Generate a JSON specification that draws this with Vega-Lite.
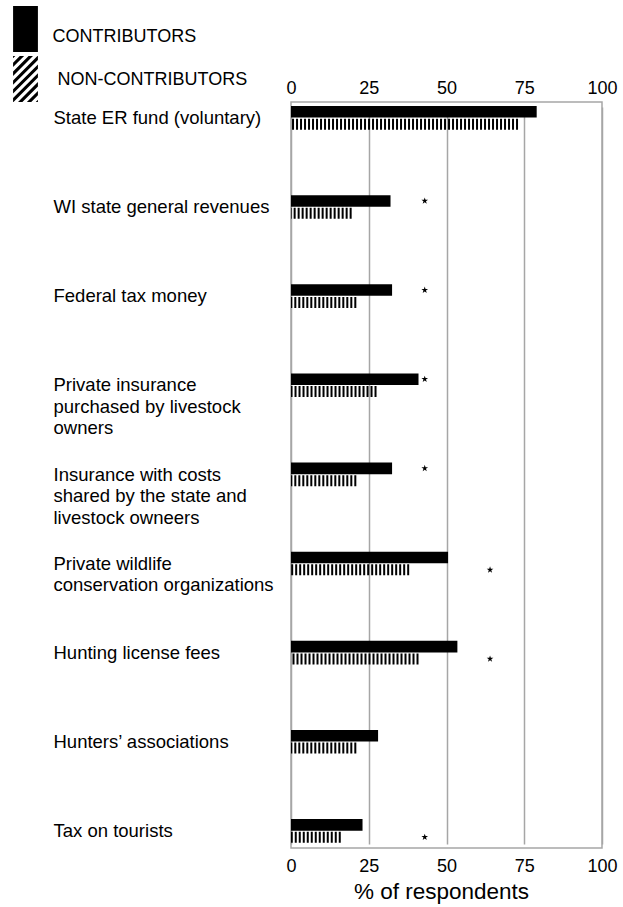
{
  "$schema": "https://vega.github.io/schema/vega-lite/v6.json",
  "width": 311,
  "height": 746,
  "autosize": "none",
  "padding": {"left": 291, "top": 102, "right": 21, "bottom": 59},
  "background": "white",
  "config": {"font": "Liberation Sans", "view": {"stroke": "#a6a6a6", "strokeWidth": 1.5}},
  "datasets": {
    "bars": [
      {"category": "State ER fund (voluntary)", "group": "CONTRIBUTORS", "value": 79},
      {"category": "State ER fund (voluntary)", "group": "NON-CONTRIBUTORS", "value": 73},
      {"category": "WI state general revenues", "group": "CONTRIBUTORS", "value": 32},
      {"category": "WI state general revenues", "group": "NON-CONTRIBUTORS", "value": 19.5},
      {"category": "Federal tax money", "group": "CONTRIBUTORS", "value": 32.5},
      {"category": "Federal tax money", "group": "NON-CONTRIBUTORS", "value": 21},
      {"category": "Private insurance|purchased by livestock|owners", "group": "CONTRIBUTORS", "value": 41},
      {"category": "Private insurance|purchased by livestock|owners", "group": "NON-CONTRIBUTORS", "value": 27.5},
      {"category": "Insurance with costs|shared by the state and|livestock owneers", "group": "CONTRIBUTORS", "value": 32.5},
      {"category": "Insurance with costs|shared by the state and|livestock owneers", "group": "NON-CONTRIBUTORS", "value": 21},
      {"category": "Private wildlife|conservation organizations", "group": "CONTRIBUTORS", "value": 50.5},
      {"category": "Private wildlife|conservation organizations", "group": "NON-CONTRIBUTORS", "value": 38},
      {"category": "Hunting license fees", "group": "CONTRIBUTORS", "value": 53.5},
      {"category": "Hunting license fees", "group": "NON-CONTRIBUTORS", "value": 41},
      {"category": "Hunters’ associations", "group": "CONTRIBUTORS", "value": 28},
      {"category": "Hunters’ associations", "group": "NON-CONTRIBUTORS", "value": 21},
      {"category": "Tax on tourists", "group": "CONTRIBUTORS", "value": 23},
      {"category": "Tax on tourists", "group": "NON-CONTRIBUTORS", "value": 16}
    ],
    "signif": [
      {"category": "WI state general revenues", "group": "CONTRIBUTORS", "value": 43},
      {"category": "Federal tax money", "group": "CONTRIBUTORS", "value": 43},
      {"category": "Private insurance|purchased by livestock|owners", "group": "CONTRIBUTORS", "value": 43},
      {"category": "Insurance with costs|shared by the state and|livestock owneers", "group": "CONTRIBUTORS", "value": 43},
      {"category": "Private wildlife|conservation organizations", "group": "NON-CONTRIBUTORS", "value": 64},
      {"category": "Hunting license fees", "group": "NON-CONTRIBUTORS", "value": 64},
      {"category": "Tax on tourists", "group": "NON-CONTRIBUTORS", "value": 43}
    ]
  },
  "resolve": {"axis": {"x": "independent"}},
  "layer": [
    {
      "data": {"name": "bars"},
      "transform": [{"filter": "datum.group === 'CONTRIBUTORS'"}],
      "mark": {"type": "bar"},
      "encoding": {
        "y": {
          "field": "category", "type": "nominal",
          "scale": {
            "type": "band",
            "domain": ["State ER fund (voluntary)", "WI state general revenues", "Federal tax money", "Private insurance|purchased by livestock|owners", "Insurance with costs|shared by the state and|livestock owneers", "Private wildlife|conservation organizations", "Hunting license fees", "Hunters’ associations", "Tax on tourists"],
            "range": [4, 741], "paddingInner": 0.731, "paddingOuter": 0
          },
          "axis": {
            "title": null, "domain": false, "ticks": false, "grid": false,
            "labelAlign": "left", "labelPadding": 238, "labelLimit": 300,
            "labelFontSize": 18.5, "labelColor": "#000", "labelLineHeight": 21.5,
            "labelOverlap": false,
            "labelExpr": "split(datum.label, '|')"
          }
        },
        "yOffset": {"field": "group", "type": "nominal", "scale": {"domain": ["CONTRIBUTORS", "NON-CONTRIBUTORS"], "paddingInner": 0.06}},
        "x": {
          "field": "value", "type": "quantitative",
          "scale": {"domain": [0, 100], "nice": false},
          "axis": {
            "orient": "bottom", "values": [0, 25, 50, 75, 100], "grid": true,
            "gridColor": "#a6a6a6", "gridWidth": 1.5, "domain": false, "ticks": false,
            "labelFontSize": 18, "labelColor": "#000", "labelPadding": 9, "labelFlush": false,
            "title": "% of respondents", "titleFontSize": 22.5, "titleFontWeight": "normal",
            "titleColor": "#000", "titlePadding": 5, "titleX": 150
          }
        },
        "color": {
          "field": "group", "type": "nominal",
          "scale": {"domain": ["CONTRIBUTORS", "NON-CONTRIBUTORS"], "range": ["#000000", "#000000"]},
          "legend": {
            "orient": "none", "direction": "vertical", "legendX": -288.5, "legendY": -96,
            "title": null, "symbolSize": 2116, "symbolStrokeWidth": 0,
            "labelFontSize": 18, "labelColor": "#000", "labelOffset": 4, "rowPadding": 4,
            "padding": 0, "labelLimit": 300,
            "encode": {
              "symbols": {"update": {"shape": {"signal": "datum.value === 'CONTRIBUTORS' ? 'M-0.54,-1H0.54V1H-0.54Z' : 'M-0.54,-1L-0.445,-1L-0.54,-0.905Z M-0.54,-0.71L-0.25,-1L-0.06,-1L-0.54,-0.52Z M-0.54,-0.325L0.135,-1L0.325,-1L-0.54,-0.135Z M-0.54,0.06L0.52,-1L0.54,-1L0.54,-0.83L-0.54,0.25Z M-0.54,0.445L0.54,-0.635L0.54,-0.445L-0.54,0.635Z M-0.54,0.83L0.54,-0.25L0.54,-0.06L-0.52,1L-0.54,1Z M-0.325,1L0.54,0.135L0.54,0.325L-0.135,1Z M0.06,1L0.54,0.52L0.54,0.71L0.25,1Z M0.445,1L0.54,0.905L0.54,1Z'"}}},
              "labels": {"update": {"dy": {"signal": "datum.value === 'CONTRIBUTORS' ? 8 : 1"}, "dx": {"signal": "datum.value === 'CONTRIBUTORS' ? 0 : 5"}}}
            }
          }
        }
      }
    },
    {
      "data": {"name": "bars"},
      "transform": [{"filter": "datum.group === 'NON-CONTRIBUTORS'"}],
      "mark": {"type": "rule", "strokeWidth": 11, "strokeDash": [2, 2], "color": "#000", "strokeCap": "butt"},
      "encoding": {
        "y": {"field": "category", "type": "nominal"},
        "yOffset": {"field": "group", "type": "nominal"},
        "x": {
          "field": "value", "type": "quantitative",
          "axis": {
            "orient": "top", "values": [0, 25, 50, 75, 100], "grid": false, "domain": false, "ticks": false,
            "labelFontSize": 18, "labelColor": "#000", "labelPadding": 5, "labelFlush": false, "title": null
          }
        },
        "x2": {"datum": 0}
      }
    },
    {
      "data": {"name": "signif"},
      "mark": {"type": "point", "shape": "M0,-1L0.223,-0.307L0.951,-0.309L0.361,0.117L0.588,0.809L0,0.38L-0.588,0.809L-0.361,0.117L-0.951,-0.309L-0.223,-0.307Z", "filled": true, "size": 49, "color": "#000", "opacity": 1, "strokeWidth": 0},
      "encoding": {
        "y": {"field": "category", "type": "nominal"},
        "yOffset": {"field": "group", "type": "nominal"},
        "x": {"field": "value", "type": "quantitative", "axis": null}
      }
    }
  ]
}
